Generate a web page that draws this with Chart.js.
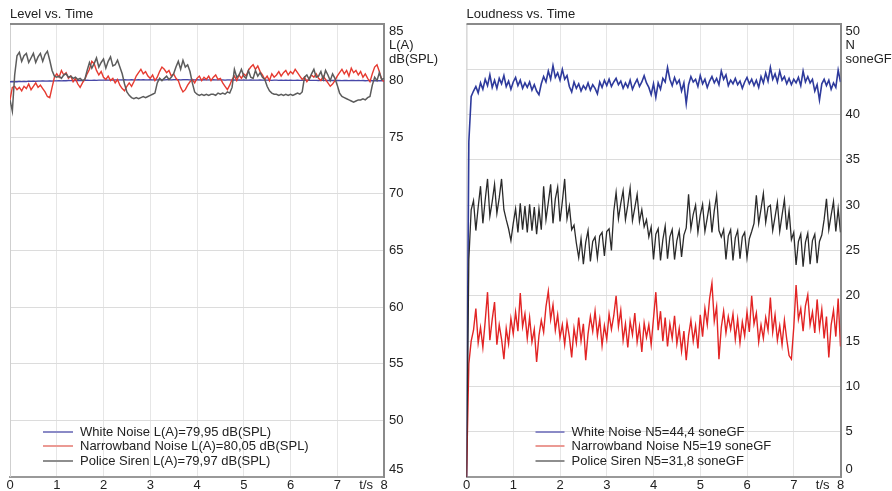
<!DOCTYPE html>
<html>
<head>
<meta charset="utf-8">
<script src="https://cdn.jsdelivr.net/npm/chart.js@4.4.0/dist/chart.umd.min.js"></script>
<style>
  html, body { margin: 0; padding: 0; background: #fff; }
  #wrap { position: relative; width: 892px; height: 491px; }
  .panel { position: absolute; top: 0; width: 446px; height: 491px; }
</style>
</head>
<body>
<div id="wrap">
  <div class="panel" style="left:0"><canvas id="level" width="446" height="491"></canvas></div>
  <div class="panel" style="left:446px"><canvas id="loud" width="446" height="491"></canvas></div>
</div>
<script>
// one sample every 0.05 s, 0..8 s (161 samples per series)
const sampleStep = 0.05;
const timeTicks = [0, 1, 2, 3, 4, 5, 6, 7, 8];
const levelTicks = [45, 50, 55, 60, 65, 70, 75, 80, 85];
const loudTicks = [0, 5, 10, 15, 20, 25, 30, 35, 40, 45, 50];

const levelLabels = [
  'White Noise L(A)=79,95 dB(SPL)',
  'Narrowband Noise L(A)=80,05 dB(SPL)',
  'Police Siren L(A)=79,97 dB(SPL)'
];
const loudLabels = [
  'White Noise N5=44,4 soneGF',
  'Narrowband Noise N5=19 soneGF',
  'Police Siren N5=31,8 soneGF'
];

// L(A) in dB(SPL)
const levelWhite = [
  79.9,79.9,79.92,79.9,79.93,79.91,79.94,79.92,79.95,79.93,79.95,79.94,79.96,79.95,79.97,79.95,79.96,79.98,79.96,79.98,
  79.97,79.99,79.98,80.0,79.99,80.01,80.0,80.02,80.0,80.01,80.03,80.01,80.02,80.04,80.02,80.03,80.05,80.03,80.04,80.05,
  80.04,80.06,80.05,80.06,80.05,80.07,80.06,80.07,80.06,80.08,80.07,80.06,80.08,80.07,80.06,80.08,80.07,80.08,80.07,80.06,
  80.08,80.07,80.08,80.07,80.09,80.08,80.07,80.09,80.08,80.07,80.08,80.09,80.08,80.07,80.08,80.09,80.08,80.07,80.08,80.07,
  80.08,80.07,80.06,80.08,80.07,80.06,80.07,80.08,80.06,80.07,80.06,80.07,80.05,80.06,80.07,80.05,80.06,80.05,80.06,80.05,
  80.06,80.05,80.04,80.06,80.05,80.04,80.05,80.06,80.04,80.05,80.04,80.05,80.03,80.04,80.05,80.03,80.04,80.03,80.04,80.03,
  80.04,80.03,80.02,80.04,80.03,80.02,80.03,80.04,80.02,80.03,80.02,80.03,80.01,80.02,80.03,80.01,80.02,80.01,80.02,80.01,
  80.02,80.01,80.0,80.02,80.01,80.0,80.01,80.02,80.0,80.01,80.0,80.01,79.99,80.0,80.01,79.99,80.0,79.99,80.0,79.99,
  80.0
];
const levelNarrow = [
  78.3,79.4,79.5,79.2,79.4,79.1,79.5,79.3,79.7,79.2,79.5,79.8,79.4,79.6,79.3,79.0,78.6,78.5,79.4,80.3,
  80.6,80.3,80.9,80.5,80.7,80.2,80.4,79.9,80.2,79.7,79.4,79.8,80.1,80.6,81.0,81.7,81.5,80.9,80.5,80.8,
  80.3,80.1,80.4,80.0,80.2,79.8,80.1,79.6,79.3,79.1,79.5,79.8,79.5,79.9,80.4,80.7,81.0,80.6,80.8,80.4,
  80.2,80.5,80.0,80.3,80.8,81.2,81.0,80.7,80.9,80.4,80.6,80.2,80.0,79.4,79.0,79.2,79.6,79.9,80.1,79.8,
  80.2,80.4,80.0,80.3,80.1,80.4,80.0,80.3,80.5,80.1,80.2,79.8,79.5,79.2,79.6,80.1,80.4,80.0,80.5,80.2,
  80.6,80.4,80.9,81.2,81.4,81.0,81.3,80.8,80.5,80.1,80.4,80.0,80.6,80.3,80.5,80.8,80.4,80.7,80.9,80.5,
  80.8,80.6,81.0,80.7,80.4,80.1,80.3,79.9,80.2,80.5,80.3,80.6,80.2,80.0,80.4,80.1,79.8,79.5,79.7,80.0,
  80.4,80.7,81.0,80.6,80.9,80.4,81.1,80.7,80.9,80.5,80.8,80.3,80.6,80.2,79.9,80.6,81.2,81.4,80.8,80.1,
  79.9
];
const levelSiren = [
  78.3,77.3,80.5,82.2,82.5,81.7,82.2,82.4,81.6,82.0,82.4,81.6,82.1,82.4,81.7,82.3,82.6,81.8,80.9,80.4,
  80.3,80.4,80.2,80.5,80.6,80.3,80.4,80.2,80.3,80.1,80.2,80.0,80.1,80.9,81.6,81.1,81.5,82.0,81.2,81.6,
  81.9,81.1,81.7,82.1,81.3,81.4,81.8,81.2,80.6,79.7,79.0,78.7,78.5,78.4,78.5,78.4,78.5,78.6,78.5,78.6,
  78.7,78.8,78.9,79.8,80.2,80.0,80.2,80.4,80.1,80.3,80.6,81.2,81.7,81.0,81.8,81.2,81.4,80.8,79.8,79.0,
  78.8,78.7,78.8,78.7,78.8,78.7,78.8,78.8,78.7,78.9,78.8,78.9,78.8,79.0,78.9,79.4,81.0,80.3,80.5,81.0,
  80.4,80.2,80.9,80.3,80.2,80.9,80.4,80.7,80.3,80.1,79.5,79.1,78.9,78.8,78.8,78.7,78.8,78.7,78.8,78.7,
  78.8,78.7,78.8,78.9,78.8,79.0,80.3,80.5,80.1,80.6,81.0,80.3,80.4,80.8,80.1,80.9,80.5,80.0,80.6,80.2,
  79.6,78.9,78.6,78.5,78.4,78.3,78.2,78.1,78.2,78.3,78.3,78.4,78.3,78.5,78.6,79.6,80.3,80.0,80.7,80.1,
  80.2
];

// N in soneGF
const loudWhite = [
  0,37,42.0,42.6,43.1,42.4,43.5,42.8,43.9,43.2,44.4,43.0,43.8,42.9,44.0,43.4,44.3,43.1,43.7,42.8,
  43.6,44.1,43.2,43.8,42.9,43.5,43.0,43.6,42.7,43.3,42.6,42.2,43.4,44.2,43.6,44.8,43.9,45.4,44.1,44.6,
  43.8,45.0,43.9,44.3,43.1,42.5,43.6,42.9,43.4,42.6,43.2,42.8,43.5,42.7,43.3,42.9,42.3,43.6,43.0,43.8,
  43.2,43.9,43.1,43.6,44.0,43.3,43.7,42.9,43.5,43.0,43.8,42.8,43.4,43.9,43.1,43.6,44.3,43.5,43.0,42.2,
  43.4,41.9,43.5,42.8,44.0,43.6,45.2,43.9,43.2,44.1,43.4,43.8,42.6,43.5,41.2,43.3,44.2,43.6,43.9,43.1,
  44.3,43.4,43.9,43.0,43.7,44.2,43.5,44.0,43.3,44.8,43.9,44.4,43.2,43.8,43.4,44.0,43.3,43.7,42.9,43.6,
  44.1,43.4,43.9,43.2,43.8,43.0,44.2,43.5,44.6,43.7,45.2,43.9,44.5,43.6,44.8,43.8,44.2,43.4,44.0,43.3,
  43.9,43.5,44.1,43.2,44.8,43.6,44.2,43.5,43.9,42.6,43.3,41.6,43.4,43.9,43.2,43.8,42.8,43.5,43.0,44.9,
  43.6
];
const loudNarrow = [
  0,12.5,15.0,16.2,18.6,14.8,16.5,14.3,17.2,20.4,15.1,17.4,19.3,14.6,16.8,15.2,13.0,16.4,14.7,17.5,
  15.8,18.2,16.1,20.3,16.6,18.0,15.3,17.6,14.9,16.3,12.7,15.6,17.3,16.0,18.8,20.5,17.4,19.0,16.2,17.9,
  15.4,16.8,14.6,17.1,15.5,13.2,16.4,14.8,17.6,15.0,16.9,12.9,15.8,17.7,16.1,18.3,15.6,17.4,14.5,16.7,
  15.2,18.0,16.3,17.8,20.0,16.6,18.4,15.1,16.9,14.3,17.2,15.7,18.1,14.9,16.6,13.8,17.0,15.4,16.8,14.6,
  17.5,20.4,16.2,18.3,15.0,17.6,14.4,16.9,15.3,17.8,14.7,16.4,13.9,16.1,12.9,15.6,17.3,15.0,16.7,14.2,
  17.9,15.5,18.6,16.8,19.7,21.4,17.2,18.8,13.0,16.5,18.3,15.9,17.7,16.3,18.0,15.2,17.4,14.8,17.1,15.6,
  18.2,16.0,20.0,16.9,18.1,14.9,16.8,15.3,17.6,16.2,19.8,16.0,17.9,15.1,16.7,14.6,17.3,15.2,13.4,13.0,
  16.5,21.2,17.4,18.6,16.1,18.9,20.1,16.8,18.2,15.9,19.6,16.4,18.5,15.3,17.7,13.2,16.8,18.4,15.5,19.7,
  14.4
];
const loudSiren = [
  0,24.0,29.5,30.5,27.2,29.8,32.1,28.0,30.6,32.9,28.8,30.4,32.3,29.1,30.8,32.9,29.5,28.4,27.4,26.1,
  28.0,29.6,27.0,30.2,27.3,29.9,27.0,30.1,27.2,29.8,26.8,29.6,27.3,32.1,28.4,30.3,32.3,28.0,30.7,32.0,
  28.2,30.4,32.9,28.5,29.9,27.3,27.8,25.8,24.2,26.3,23.5,25.9,27.2,23.8,26.0,26.5,24.2,26.6,27.0,24.4,
  27.1,27.4,25.0,29.3,31.4,28.5,30.2,31.6,28.4,30.0,31.9,28.3,29.7,31.2,28.2,29.5,27.6,28.4,26.5,27.6,
  24.0,26.8,27.4,23.9,26.2,27.7,24.1,26.5,27.3,24.0,26.1,27.2,24.3,26.7,27.5,31.2,27.4,29.0,30.0,27.0,
  28.9,30.1,27.1,28.6,30.2,27.0,29.4,31.1,27.2,26.5,27.3,24.0,26.6,27.3,23.9,26.4,27.2,24.1,26.5,27.0,
  24.2,26.3,27.1,28.0,31.1,28.0,29.6,31.3,28.1,29.8,30.0,27.2,28.7,30.3,27.1,28.9,30.6,27.3,29.4,26.2,
  27.0,23.4,26.0,26.8,23.2,25.9,26.9,23.5,26.1,26.8,23.6,26.0,26.7,28.4,30.7,27.3,28.9,30.4,27.1,29.6,
  27.0
];

Chart.defaults.font.family = "'Liberation Sans', Arial, sans-serif";
Chart.defaults.font.size = 13;
Chart.defaults.color = '#222';

const toPoints = vals => vals.map((v, i) => ({ x: i * sampleStep, y: v }));

// frame, in-plot legend and the "t/s" axis note
const panelDecor = {
  id: 'panelDecor',
  beforeDatasetsDraw(chart, args, opts) {
    const { ctx, chartArea: a } = chart;
    ctx.save();
    ctx.strokeStyle = '#cfcfcf'; ctx.lineWidth = 1;
    ctx.beginPath(); ctx.moveTo(a.left + 0.5, a.top); ctx.lineTo(a.left + 0.5, a.bottom); ctx.stroke();
    ctx.strokeStyle = '#8a8a8a'; ctx.lineWidth = 2;
    ctx.beginPath(); ctx.moveTo(a.left, a.top); ctx.lineTo(a.right + 1, a.top); ctx.stroke();
    ctx.restore();
  },
  afterDatasetsDraw(chart, args, opts) {
    const { ctx, chartArea: a } = chart;
    ctx.save();
    ctx.font = "13px 'Liberation Sans', Arial, sans-serif";
    ctx.textBaseline = 'middle';
    chart.data.datasets.forEach((ds, i) => {
      const y = a.bottom + opts.rows[i];
      ctx.strokeStyle = opts.swatchColors[i]; ctx.lineWidth = 2;
      ctx.beginPath(); ctx.moveTo(a.left + opts.swatch[0], y); ctx.lineTo(a.left + opts.swatch[1], y); ctx.stroke();
      ctx.fillStyle = '#222';
      ctx.fillText(ds.label, a.left + opts.textX, y);
    });
    ctx.restore();
  },
  afterDraw(chart, args, opts) {
    const { ctx } = chart;
    const x = chart.scales.x.getPixelForValue(8) - 11;
    ctx.save();
    ctx.font = "13px 'Liberation Sans', Arial, sans-serif";
    ctx.fillStyle = '#222'; ctx.textAlign = 'right'; ctx.textBaseline = 'middle';
    ctx.fillText('t/s', x, 485);
    ctx.restore();
  }
};

function makePanel(canvasId, cfg) {
  const colors = cfg.colors;
  new Chart(document.getElementById(canvasId), {
    type: 'line',
    data: {
      datasets: cfg.series.map((s, i) => ({
        label: cfg.labels[i],
        data: toPoints(s),
        borderColor: colors[i],
        borderWidth: cfg.widths[i],
        order: 3 - i
      }))
    },
    options: {
      responsive: false,
      animation: false,
      layout: { padding: { left: cfg.padLeft, right: 0, top: 0, bottom: 0 } },
      elements: { point: { radius: 0 }, line: { tension: 0 } },
      scales: {
        x: {
          type: 'linear', min: 0, max: 8,
          afterBuildTicks: s => { s.ticks = timeTicks.map(v => ({ value: v })); },
          afterFit: s => { s.height = 14; s.paddingLeft = 0; s.paddingRight = 0; },
          ticks: { padding: 1, autoSkip: false, maxRotation: 0 },
          grid: { color: '#e6e6e6', drawTicks: false },
          border: { color: '#999', width: 2 }
        },
        y: {
          type: 'linear', position: 'right', min: cfg.yTicks[0], max: cfg.yTicks[cfg.yTicks.length - 1],
          afterBuildTicks: s => { s.ticks = cfg.yTicks.map(v => ({ value: v })); },
          afterFit: s => { s.width = cfg.axisWidth; s.paddingTop = 0; s.paddingBottom = 0; },
          ticks: { padding: 5, autoSkip: false, font: { lineHeight: 1.1 }, callback: cfg.yLabel },
          grid: { color: '#dcdcdc', drawTicks: false },
          border: { color: '#8a8a8a', width: 2 }
        }
      },
      plugins: {
        legend: { display: false },
        tooltip: { enabled: false },
        title: {
          display: true, text: cfg.title, align: 'start',
          font: { size: 13, weight: 'normal' }, color: '#222',
          padding: { top: 7, bottom: 1.4 }
        },
        panelDecor: { rows: [-45, -31, -16], swatch: cfg.swatch, textX: cfg.textX, swatchColors: cfg.swatchColors }
      }
    },
    plugins: [panelDecor]
  });
}

makePanel('level', {
  title: 'Level vs. Time',
  labels: levelLabels,
  series: [levelWhite, levelNarrow, levelSiren],
  colors: ['#4848a8', '#e63a30', '#5c5c5c'],
  widths: [1.3, 1.4, 1.5],
  swatchColors: ['#8a8ac6', '#eb9a94', '#8e8e8e'],
  swatch: [33, 63], textX: 70,
  padLeft: 10, axisWidth: 62,
  yTicks: levelTicks,
  yLabel: v => v === 85 ? ['', '', '', '85', 'L(A)', 'dB(SPL)'] : v === 45 ? ['45', ''] : String(v)
});

makePanel('loud', {
  title: 'Loudness vs. Time',
  labels: loudLabels,
  series: [loudWhite, loudNarrow, loudSiren],
  colors: ['#2e3a9c', '#e22424', '#2a2a2a'],
  widths: [1.6, 1.4, 1.3],
  swatchColors: ['#8a8ac6', '#eb9a94', '#8e8e8e'],
  swatch: [69, 98], textX: 105,
  padLeft: 20.5, axisWidth: 51.5,
  yTicks: loudTicks,
  yLabel: v => v === 50 ? ['', '', '', '50', 'N', 'soneGF'] : v === 45 ? '' : v === 0 ? ['0', ''] : String(v)
});
</script>
</body>
</html>
